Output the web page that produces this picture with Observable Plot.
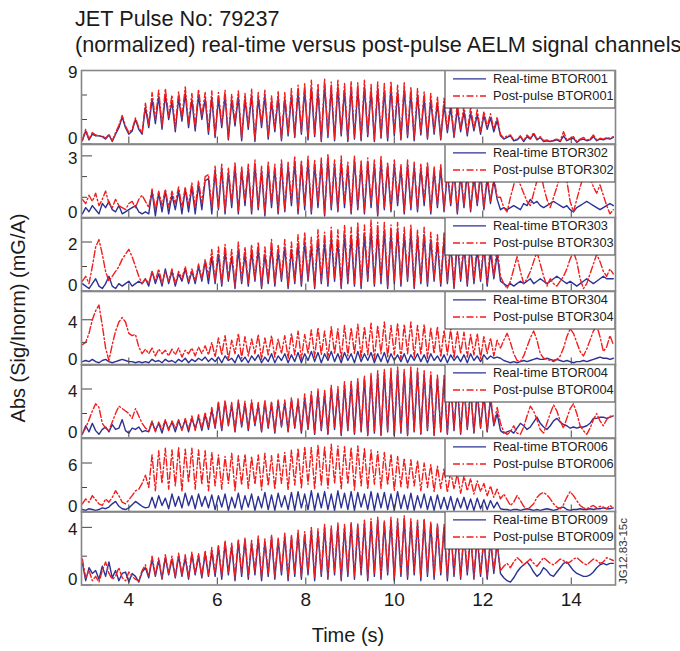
<!DOCTYPE html>
<html>
<head>
<meta charset="utf-8">
<script src="https://cdn.jsdelivr.net/npm/d3@7"></script>
<script src="https://cdn.jsdelivr.net/npm/@observablehq/plot@0.6"></script>
<style>
  html, body { margin: 0; padding: 0; background: #fff; }
  #chart { position: relative; width: 680px; height: 651px; overflow: hidden; background: #fff;
           font-family: "Liberation Sans", Arial, Helvetica, sans-serif; }
  #chart svg.panel { position: absolute; left: 0; }
</style>
</head>
<body>
<div id="chart"></div>
<script>
// ---------------- DATA ----------------
// sampling grid: 2.95 s .. 14.95 s, every 0.075 s (161 samples)
const tStart = 2.95, tStep = 0.075, nSamples = 161;

const channels = ["BTOR001", "BTOR302", "BTOR303", "BTOR304", "BTOR004", "BTOR006", "BTOR009"];

const rt_BTOR001 = [
  0.4,1.6,0.5,1.2,1.0,1.0,0.9,0.6,1.1,0.3,1.2,2.0,3.3,2.0,1.2,1.6,3.0,1.8,1.2,4.5,
  2.0,5.5,2.5,5.8,1.8,6.0,3.0,5.2,1.5,5.6,2.8,6.2,2.0,5.4,1.6,5.9,3.0,5.5,1.2,5.7,
  0.8,5.6,2.0,5.9,0.5,5.4,2.2,5.8,0.4,5.5,
  1.8,6.0,0.3,5.6,2.0,5.9,0.6,5.2,1.5,5.7,
  0.4,5.5,1.0,6.0,0.8,6.4,1.2,6.6,0.5,6.9,
  0.9,6.5,0.3,7.2,0.8,6.8,0.4,7.0,1.0,6.6,
  0.3,6.9,0.6,6.7,0.4,7.0,0.9,6.5,0.3,6.8,
  0.7,6.6,0.4,6.9,1.0,6.4,0.5,6.7,0.8,6.2,
  0.4,6.0,1.1,5.6,0.6,5.4,1.2,5.0,0.5,4.8,
  1.4,4.5,0.8,4.3,1.5,4.0,1.0,3.8,1.6,3.6,
  1.2,3.5,1.8,3.2,1.5,2.9,
  1.0,0.6,0.8,1.0,0.4,0.5,0.9,0.3,0.9,0.6,1.2,0.5,0.8,0.3,0.4,0.3,0.4,0.5,0.3,1.0,
  0.4,0.6,0.7,0.2,0.5,0.6,0.4,0.5,0.9,0.4,0.6,0.5,0.7,0.6,0.8
];
const pp_BTOR001 = [
  0.5,1.8,0.6,1.4,1.1,1.0,1.0,0.7,1.2,0.4,1.4,2.3,3.5,2.2,1.4,1.8,3.2,2.0,1.4,5.0,
  2.3,6.3,3.0,6.6,2.2,6.8,3.4,6.0,1.9,6.4,3.2,7.0,2.4,6.2,2.0,6.7,3.4,6.3,1.6,6.5,
  1.0,6.3,2.4,6.6,0.7,6.1,2.6,6.5,0.6,6.2,
  2.2,6.7,0.5,6.3,2.4,6.6,0.8,5.9,1.9,6.4,
  0.6,6.3,1.3,6.8,1.0,7.2,1.5,7.4,0.7,7.8,
  1.2,7.4,0.5,8.0,1.1,7.6,0.6,7.8,1.3,7.4,
  0.5,7.7,0.8,7.5,0.6,7.8,1.2,7.3,0.5,7.6,
  0.9,7.4,0.6,7.7,1.3,7.2,0.7,7.5,1.1,7.0,
  0.6,6.8,1.4,6.4,0.8,6.2,1.5,5.8,0.7,5.6,
  1.7,5.3,1.0,5.0,1.8,4.7,1.3,4.5,1.9,4.2,
  1.5,4.0,2.1,3.7,1.8,3.3,
  1.2,0.7,1.0,1.1,0.5,0.6,1.0,0.4,1.1,0.7,1.4,0.6,0.9,0.4,0.5,0.3,0.5,0.6,0.4,1.5,
  0.5,0.7,0.9,0.3,0.6,0.8,0.5,0.6,1.1,0.5,0.7,0.6,0.8,0.7,0.9
];
const rt_BTOR302 = [
  0.2,0.5,0.3,0.6,0.4,0.2,0.7,0.5,0.8,0.4,0.3,0.6,0.2,0.3,0.4,0.5,0.6,0.3,0.2,0.3,
  0.2,1.3,0.1,1.2,0.3,1.3,0.2,1.1,0.4,1.3,0.2,1.4,0.3,1.5,0.2,1.6,0.4,1.8,1.9,0.2,
  2.3,0.4,2.4,0.2,2.2,0.5,2.5,0.2,2.3,0.6,
  2.4,0.2,2.6,0.4,2.3,0.1,2.5,0.5,2.4,0.2,
  2.6,0.3,2.5,0.6,2.7,0.2,2.6,0.4,2.8,0.2,
  2.6,0.5,2.7,0.1,2.9,0.4,2.6,0.3,2.7,0.5,
  2.5,0.2,2.8,0.4,2.6,0.2,2.7,0.5,2.6,0.1,
  2.8,0.4,2.5,0.3,2.6,0.6,2.4,0.2,2.6,0.4,
  2.5,0.3,2.4,0.6,2.5,0.2,2.3,0.5,2.4,0.3,
  2.2,0.6,2.3,0.2,2.1,0.5,2.2,0.3,2.0,0.6,
  2.1,0.4,1.9,0.7,1.8,0.9,
  0.4,0.5,0.4,0.5,0.6,0.5,0.4,0.7,0.6,0.9,0.7,0.8,0.6,0.5,0.6,0.7,0.8,0.7,0.6,0.5,
  0.6,0.4,0.3,0.5,0.6,0.7,0.8,0.7,0.6,0.5,0.4,0.5,0.6,0.7,0.6
];
const pp_BTOR302 = [
  0.9,0.7,1.1,0.8,1.2,0.6,0.9,1.3,0.7,0.5,0.9,0.6,0.5,0.4,0.7,0.8,0.5,0.9,1.1,0.8,
  0.5,1.4,0.4,1.3,0.6,1.4,0.5,1.3,0.7,1.5,0.5,1.5,0.6,1.7,0.5,1.8,0.7,2.0,2.1,0.5,
  2.5,0.5,2.6,0.3,2.4,0.7,2.7,0.3,2.5,0.8,
  2.6,0.3,2.8,0.5,2.5,0.2,2.7,0.7,2.6,0.3,
  2.8,0.4,2.7,0.8,3.0,0.3,2.8,0.6,3.0,0.3,
  2.8,0.7,2.9,0.2,3.1,0.5,2.8,0.4,3.0,0.7,
  2.7,0.3,3.0,0.5,2.8,0.3,2.9,0.7,2.8,0.2,
  3.0,0.5,2.7,0.4,2.8,0.8,2.6,0.3,2.8,0.5,
  2.7,0.4,2.6,0.8,2.7,0.3,2.5,0.6,2.6,0.4,
  2.4,0.7,2.5,0.3,2.3,0.6,2.4,0.4,2.2,0.7,
  2.3,0.5,2.1,0.8,2.0,1.0,
  1.0,0.5,0.3,1.0,1.6,2.0,1.6,1.2,0.8,0.6,1.2,1.8,2.3,1.5,0.9,0.5,1.0,1.5,2.1,2.6,
  1.8,0.8,0.3,0.9,1.5,2.0,2.4,2.0,1.5,1.2,1.6,1.1,0.6,0.2,0.4
];
const rt_BTOR303 = [
  0.3,0.2,0.1,0.3,0.5,0.2,0.1,0.3,0.6,0.2,0.1,0.3,0.2,0.3,0.4,0.2,0.3,0.4,0.3,0.5,
  0.2,0.8,0.3,0.7,0.2,0.9,0.3,0.8,0.2,0.7,0.4,0.9,0.3,0.8,0.3,1.0,0.4,1.2,0.3,1.4,
  0.3,1.5,0.2,1.6,0.4,1.4,0.1,1.7,0.3,1.5,
  0.2,1.6,0.4,1.7,0.1,1.5,0.3,1.8,0.2,1.6,
  0.4,1.8,0.1,1.7,0.3,1.9,0.2,2.0,0.4,1.8,
  0.1,2.1,0.3,2.0,0.2,2.2,0.4,2.0,0.1,2.3,
  0.3,2.2,0.2,2.4,0.1,2.3,0.4,2.5,0.2,2.4,
  0.3,2.5,0.1,2.4,0.3,2.5,0.2,2.3,0.4,2.4,
  0.1,2.2,0.3,2.3,0.2,2.1,0.4,2.0,0.2,2.1,
  0.3,1.9,0.1,2.0,0.4,1.8,0.2,1.9,0.3,1.7,
  0.4,1.8,0.2,1.6,0.5,1.5,
  0.4,0.3,0.2,0.3,0.2,0.3,0.4,0.3,0.4,0.5,0.3,0.4,0.5,0.4,0.3,0.4,0.5,0.6,0.5,0.4,
  0.3,0.4,0.3,0.2,0.3,0.4,0.5,0.4,0.3,0.4,0.5,0.6,0.5,0.5,0.5
];
const pp_BTOR303 = [
  0.4,0.6,0.3,1.0,1.8,2.1,1.5,0.8,0.4,0.6,0.8,1.0,1.3,1.5,1.7,1.4,1.0,0.6,0.3,0.5,
  0.3,0.8,0.4,0.9,0.3,0.8,0.4,0.9,0.3,0.8,0.5,1.0,0.4,0.9,0.4,1.1,0.5,1.3,0.6,1.7,
  0.4,1.8,0.3,1.9,0.5,1.7,0.2,2.0,0.4,1.8,
  0.3,1.9,0.5,2.0,0.2,1.8,0.4,2.1,0.3,1.9,
  0.5,2.1,0.2,2.0,0.4,2.3,0.3,2.4,0.5,2.2,
  0.2,2.5,0.4,2.4,0.3,2.6,0.5,2.5,0.2,2.7,
  0.4,2.6,0.3,2.8,0.2,2.7,0.5,2.9,0.3,2.8,
  0.4,2.8,0.2,2.7,0.4,2.8,0.3,2.6,0.5,2.7,
  0.2,2.5,0.4,2.6,0.3,2.4,0.5,2.3,0.3,2.4,
  0.4,2.2,0.2,2.3,0.5,2.1,0.3,2.1,0.4,2.0,
  0.5,2.0,0.3,1.9,0.6,1.8,
  0.6,0.3,0.1,0.4,0.9,1.4,0.8,0.3,0.5,0.8,1.2,1.6,1.1,0.6,0.2,0.5,0.3,0.2,0.4,0.6,
  0.9,1.3,1.6,1.2,0.5,0.1,0.3,0.7,1.1,1.5,1.2,0.8,0.6,0.9,0.7
];
const rt_BTOR304 = [
  0.3,0.4,0.3,0.5,0.3,0.2,0.4,0.5,0.3,0.2,0.3,0.4,0.5,0.4,0.3,0.3,0.2,0.3,0.2,0.3,
  0.2,0.5,0.3,0.4,0.2,0.5,0.3,0.4,0.2,0.5,0.3,0.6,0.2,0.5,0.3,0.6,0.4,0.7,0.3,0.6,
  0.3,0.7,0.2,0.8,0.4,0.6,0.2,0.9,0.3,0.7,
  0.2,0.8,0.4,0.9,0.2,0.7,0.3,1.0,0.2,0.8,
  0.4,1.0,0.2,0.9,0.3,1.1,0.2,1.0,0.4,1.2,
  0.3,1.1,0.2,1.0,0.4,1.2,0.3,1.0,0.2,1.1,
  0.4,1.0,0.2,1.2,0.3,1.0,0.4,1.1,0.2,1.0,
  0.3,1.1,0.2,1.0,0.4,0.9,0.3,1.0,0.2,0.9,
  0.4,1.0,0.3,0.9,0.2,1.0,0.4,0.8,0.3,0.9,
  0.2,0.9,0.4,0.8,0.3,0.9,0.2,1.0,0.4,0.8,
  0.3,0.9,0.5,0.8,0.6,0.7,
  0.6,0.4,0.3,0.2,0.3,0.2,0.3,0.4,0.3,0.4,0.5,0.6,0.5,0.5,0.6,0.5,0.4,0.5,0.4,0.3,
  0.4,0.3,0.2,0.3,0.3,0.4,0.3,0.4,0.5,0.6,0.7,0.6,0.6,0.5,0.6
];
const pp_BTOR304 = [
  1.8,2.0,2.8,4.0,4.8,5.3,3.5,1.5,0.4,1.8,3.0,3.8,4.2,3.8,2.8,2.6,2.7,1.6,1.0,1.4,
  1.0,1.5,0.8,1.4,1.0,1.3,0.8,1.4,0.9,1.5,0.7,1.3,1.0,1.5,0.8,1.6,1.0,1.7,0.9,2.0,
  0.7,2.4,0.9,2.6,0.5,2.2,1.0,2.8,0.6,2.5,
  0.8,2.3,1.0,2.7,0.5,2.4,0.9,2.6,0.7,2.3,
  1.0,2.6,0.6,2.8,0.9,3.0,0.5,2.7,1.0,3.1,
  0.7,3.3,0.9,3.0,0.6,3.4,1.0,3.2,0.5,3.5,
  0.8,3.3,1.0,3.6,0.6,3.4,0.9,3.7,0.5,3.5,
  1.0,3.8,0.7,3.5,0.9,3.7,0.5,3.6,1.0,3.8,
  0.7,3.5,0.9,3.6,0.6,3.3,1.0,3.4,0.7,3.1,
  0.9,3.2,0.6,3.0,1.0,2.9,0.7,2.7,0.9,2.8,
  0.6,2.5,1.0,2.4,0.8,2.2,
  1.5,2.2,2.8,2.0,1.0,0.4,0.3,0.8,1.6,2.4,3.0,2.2,1.0,0.6,0.5,0.4,0.3,0.5,0.8,1.5,
  2.5,3.2,2.8,2.0,1.2,0.8,1.4,2.2,3.0,3.5,2.5,1.2,1.6,2.6,1.8
];
const rt_BTOR004 = [
  0.3,1.0,0.5,1.2,0.6,0.3,0.7,0.9,0.5,1.1,0.7,0.8,1.5,0.6,0.4,0.8,0.7,0.9,0.5,0.6,
  0.5,1.3,0.6,1.2,0.4,1.4,0.7,1.3,0.5,1.4,0.7,1.5,0.5,1.6,0.8,1.7,0.6,1.9,0.7,2.3,
  0.8,2.8,0.6,2.9,1.0,2.7,0.5,3.0,0.9,2.8,
  0.6,2.9,1.0,2.7,0.5,2.9,0.8,2.8,0.4,3.0,
  0.9,2.9,0.5,3.1,0.8,3.0,0.4,3.3,0.7,3.5,
  0.3,3.8,0.6,3.6,0.3,4.1,0.7,3.9,0.2,4.3,
  0.6,4.4,0.3,4.6,0.5,4.8,0.2,5.0,0.4,5.2,
  0.2,5.3,0.5,5.4,0.2,5.5,0.4,5.3,0.2,5.5,
  0.5,5.4,0.3,5.2,0.6,5.1,0.2,4.9,0.5,4.8,
  0.3,4.6,0.6,4.4,0.3,4.2,0.7,3.9,0.4,3.7,
  0.8,3.5,0.5,3.2,1.0,2.0,
  0.6,0.4,0.5,0.6,0.4,0.8,1.2,1.0,0.7,0.9,1.3,1.7,1.2,0.9,0.7,1.0,1.4,1.6,1.3,1.1,
  1.0,0.8,0.9,0.8,0.9,0.9,1.0,1.2,1.6,1.6,1.7,1.7,1.6,1.7,1.8
];
const pp_BTOR004 = [
  0.4,0.8,1.5,2.2,2.8,2.5,1.2,0.8,0.6,1.3,2.0,2.6,2.4,2.2,2.0,1.6,2.4,1.8,1.2,0.8,
  0.6,1.4,0.5,1.3,0.7,1.5,0.6,1.4,0.8,1.5,0.6,1.6,0.7,1.8,0.6,1.9,0.8,2.1,0.9,2.5,
  0.9,3.0,0.7,3.1,1.1,2.9,0.6,3.1,1.0,3.0,
  0.7,3.1,1.1,2.9,0.6,3.1,0.9,3.0,0.5,3.1,
  1.0,3.1,0.6,3.3,0.9,3.2,0.5,3.6,0.8,3.8,
  0.4,4.0,0.7,3.9,0.4,4.3,0.8,4.2,0.3,4.6,
  0.7,4.7,0.4,4.9,0.6,5.1,0.3,5.3,0.5,5.5,
  0.3,5.6,0.6,5.7,0.3,5.8,0.5,5.6,0.3,5.8,
  0.6,5.7,0.4,5.5,0.7,5.4,0.3,5.2,0.6,5.1,
  0.4,4.9,0.7,4.7,0.4,4.5,0.8,4.2,0.5,4.0,
  0.9,3.8,0.6,3.5,1.1,2.5,
  1.2,0.5,0.3,0.5,1.0,0.4,0.3,0.9,1.8,2.6,2.2,1.5,0.7,0.4,1.2,2.0,2.7,2.2,1.4,0.8,
  1.6,2.4,2.8,2.0,1.0,0.6,0.3,0.8,1.5,2.0,1.4,1.0,1.5,1.8,1.7
];
const rt_BTOR006 = [
  0.3,0.2,0.4,0.3,0.2,0.3,0.5,0.4,0.6,1.0,1.3,0.7,0.4,0.3,0.5,0.9,1.3,1.0,0.7,0.5,
  0.6,1.8,0.5,2.0,0.8,1.7,0.4,2.2,0.7,1.9,0.5,2.3,0.8,2.0,0.4,2.2,0.7,1.9,0.5,2.1,
  0.3,2.0,0.6,2.2,0.2,1.8,0.5,2.3,0.3,2.0,
  0.6,2.2,0.2,1.9,0.5,2.4,0.3,2.1,0.2,2.3,
  0.6,2.0,0.3,2.4,0.2,2.5,0.5,2.2,0.3,2.6,
  0.2,2.3,0.5,2.5,0.3,2.2,0.2,2.6,0.5,2.3,
  0.3,2.5,0.2,2.4,0.6,2.2,0.3,2.5,0.2,2.3,
  0.5,2.4,0.3,2.2,0.2,2.5,0.4,2.1,0.3,2.3,
  0.2,2.0,0.5,2.2,0.3,1.9,0.2,2.1,0.4,1.8,
  0.3,1.9,0.2,1.7,0.5,1.8,0.3,1.6,0.2,1.7,
  0.4,1.5,0.3,1.4,0.5,1.2,
  0.4,0.3,0.3,0.2,0.3,0.3,0.2,0.3,0.4,0.3,0.2,0.3,0.2,0.3,0.4,0.3,0.2,0.3,0.5,0.6,
  0.3,0.2,0.3,0.3,0.4,0.3,0.3,0.4,0.3,0.4,0.4,0.5,0.4,0.4,0.5
];
const pp_BTOR006 = [
  1.0,1.6,1.2,2.0,1.5,1.0,0.8,1.6,1.2,1.8,2.6,2.0,1.2,1.0,1.5,2.0,2.6,2.8,3.5,4.5,
  3.0,7.0,2.6,7.5,3.5,7.8,2.8,7.6,3.2,7.9,2.5,7.7,3.6,7.8,2.8,7.6,3.4,7.5,2.6,7.3,
  3.2,7.0,2.8,6.8,3.5,7.2,2.6,6.9,3.3,7.1,
  2.9,6.8,3.4,7.0,2.7,7.2,3.2,6.9,2.8,7.1,
  3.5,7.3,2.7,7.6,3.3,7.8,2.9,8.0,3.4,7.9,
  2.8,8.2,3.3,8.0,2.9,8.3,3.5,8.1,2.8,8.0,
  3.4,7.9,2.7,8.1,3.2,7.8,2.8,7.6,3.4,7.4,
  2.9,7.3,3.3,7.1,2.6,6.8,3.1,6.6,2.8,6.4,
  3.2,6.3,2.6,6.0,3.0,5.8,2.5,5.6,2.9,5.3,
  2.4,5.0,2.8,4.7,2.3,4.4,2.6,4.1,2.2,3.8,
  2.5,3.5,2.0,3.2,1.8,2.8,
  1.6,2.2,1.5,0.8,1.2,2.0,1.4,0.7,0.3,0.6,1.0,1.8,2.2,2.4,2.1,1.6,1.0,0.6,0.4,0.9,
  1.8,2.5,2.0,1.4,0.8,0.5,0.4,0.6,0.8,0.5,0.7,0.6,0.4,0.8,0.5
];
const rt_BTOR009 = [
  1.5,0.3,1.2,0.8,1.0,0.4,1.3,0.6,1.6,0.5,1.0,0.3,0.8,0.9,0.2,0.8,0.6,0.2,0.9,1.2,
  0.5,1.8,0.6,1.7,0.4,1.9,0.7,1.8,0.5,2.0,0.6,1.9,0.4,2.1,0.7,2.0,0.5,2.2,0.6,2.3,
  0.6,2.6,0.4,2.9,0.7,2.7,0.3,3.0,0.6,3.1,
  0.4,2.9,0.7,3.2,0.3,3.0,0.6,3.3,0.4,3.1,
  0.7,3.4,0.3,3.3,0.6,3.6,0.4,3.5,0.7,3.8,
  0.3,3.7,0.6,4.0,0.4,3.9,0.7,4.1,0.3,4.0,
  0.6,4.2,0.4,4.1,0.7,4.3,0.3,4.4,0.6,4.5,
  0.4,4.3,0.7,4.5,0.3,4.4,0.6,4.6,0.4,4.4,
  0.7,4.3,0.3,4.5,0.6,4.2,0.4,4.1,0.7,4.0,
  0.3,3.9,0.6,3.8,0.4,3.6,0.7,3.5,0.4,3.4,
  0.6,3.2,0.4,3.1,0.8,2.9,
  0.8,0.5,0.3,0.2,0.5,0.9,1.2,1.4,1.6,1.3,0.9,0.6,0.8,1.2,1.0,0.7,0.6,0.9,1.2,1.5,
  1.6,1.3,1.0,0.8,0.7,0.6,0.6,0.7,0.9,1.2,1.4,1.5,1.4,1.5,1.5
];
const pp_BTOR009 = [
  1.8,0.5,1.0,0.3,0.6,0.2,1.0,1.6,0.8,0.4,0.6,1.2,0.5,0.3,0.9,0.6,0.4,0.3,1.0,1.4,
  0.6,2.0,0.7,1.9,0.5,2.1,0.8,2.0,0.6,2.2,0.7,2.1,0.5,2.3,0.8,2.2,0.6,2.4,0.7,2.6,
  0.8,2.8,0.6,3.1,0.9,2.9,0.5,3.2,0.8,3.3,
  0.6,3.1,0.9,3.4,0.5,3.2,0.8,3.5,0.6,3.3,
  0.9,3.6,0.5,3.5,0.8,3.8,0.6,3.7,0.9,4.0,
  0.5,3.9,0.8,4.2,0.6,4.1,0.9,4.3,0.5,4.2,
  0.8,4.4,0.6,4.3,0.9,4.5,0.5,4.6,0.8,4.7,
  0.6,4.5,0.9,4.7,0.5,4.6,0.8,4.8,0.6,4.6,
  0.9,4.5,0.5,4.6,0.8,4.4,0.6,4.3,0.9,4.2,
  0.5,4.1,0.8,4.0,0.6,3.8,0.9,3.7,0.6,3.6,
  0.8,3.4,0.6,3.3,1.0,3.0,
  1.0,1.3,1.5,1.2,1.6,1.9,1.7,1.4,1.6,1.8,1.5,1.3,1.6,1.9,1.7,1.5,1.4,1.6,1.8,1.7,
  1.5,1.6,1.8,1.9,1.7,1.5,1.4,1.6,1.8,1.7,1.5,1.6,1.9,1.8,1.7
];

const realTime  = [rt_BTOR001, rt_BTOR302, rt_BTOR303, rt_BTOR304, rt_BTOR004, rt_BTOR006, rt_BTOR009];
const postPulse = [pp_BTOR001, pp_BTOR302, pp_BTOR303, pp_BTOR304, pp_BTOR004, pp_BTOR006, pp_BTOR009];

const yMax        = [9, 3.55, 3, 6.5, 6.0, 9, 5.1];
const yTopLabel   = [9, 3, 2, 4, 4, 6, 4];
const yMinorTicks = [[3, 6], [1, 2], [1], [2], [2], [3], [2]];
const xTicks      = [4, 6, 8, 10, 12, 14];
const xDomain     = [2.93, 15.0];

// ---------------- LAYOUT / STYLE ----------------
const W = 680, H = 651;
const PANEL_TOP = 70, PANEL_H = 73.5;
const ML = 81, MR = 65;
const LAST_MB = 60;
const FONT = '"Liberation Sans", Arial, Helvetica, sans-serif';
const BLUE = "#2c3194", RED = "#f21d1d";
const FRAME = "#868686", TICK = "#444444", INK = "#1a1a1a";

[...realTime, ...postPulse].forEach((a, i) => {
  if (a.length !== nSamples) throw new Error("series " + i + " has " + a.length + " samples");
});
const time = d3.range(nSamples).map(i => +(tStart + i * tStep).toFixed(3));

const chart = document.getElementById("chart");

// overlay for titles and shared axis labels
const over = d3.select(chart).append("svg")
  .attr("width", W).attr("height", H)
  .style("position", "absolute").style("left", 0).style("top", 0)
  .attr("font-family", FONT).attr("fill", INK);
over.append("text").attr("x", 75).attr("y", 26).attr("font-size", 21.7).text("JET Pulse No: 79237");
over.append("text").attr("x", 75).attr("y", 52).attr("font-size", 21.7)
  .text("(normalized) real-time versus post-pulse AELM signal channels");
over.append("text").attr("transform", "translate(25,318) rotate(-90)")
  .attr("text-anchor", "middle").attr("font-size", 20).text("Abs (Sig/Inorm) (mG/A)");
over.append("text").attr("x", 348).attr("y", 642).attr("text-anchor", "middle")
  .attr("font-size", 20).text("Time (s)");
over.append("text").attr("transform", "translate(627,551) rotate(-90)")
  .attr("text-anchor", "middle").attr("font-size", 11.5).attr("fill", "#333").text("JG12.83-15c");

channels.forEach((ch, k) => {
  const last = k === channels.length - 1;
  const mb = last ? LAST_MB : 0;
  const rows = arr => time.map((t, i) => ({t, v: arr[i]}));

  const marks = [
    Plot.line(rows(realTime[k]), {x: "t", y: "v", stroke: BLUE, strokeWidth: 1.4, clip: true}),
    Plot.line(rows(postPulse[k]), {x: "t", y: "v", stroke: RED, strokeWidth: 1.4,
      strokeDasharray: "7,2.5,1.5,2.5", clip: true}),
    Plot.axisY({ticks: yMinorTicks[k], tickSize: -6, fill: "none", stroke: TICK, label: null}),
    Plot.axisY({ticks: [0, yTopLabel[k]], tickSize: -11, fill: "none", stroke: TICK, label: null}),
    Plot.axisY({ticks: [0], tickSize: 0, tickPadding: 4, fontSize: 17, dy: -5.5,
      fill: INK, tickFormat: d => String(d), label: null}),
    Plot.axisY({ticks: [yTopLabel[k]], tickSize: 0, tickPadding: 4, fontSize: 17, dy: 2.5,
      fill: INK, tickFormat: d => String(d), label: null}),
    Plot.axisX({ticks: xTicks, tickSize: -7, fill: "none", stroke: TICK, label: null})
  ];
  if (last) {
    marks.push(Plot.axisX({ticks: xTicks, tickSize: 0, tickPadding: 7, fontSize: 19,
      fill: INK, tickFormat: d => String(d), label: null}));
  }
  marks.push(Plot.frame({stroke: FRAME, strokeWidth: 1.6}));

  const plot = Plot.plot({
    width: W,
    height: PANEL_H + mb,
    marginLeft: ML, marginRight: MR, marginTop: 0, marginBottom: mb,
    style: {background: "transparent", overflow: "visible", fontFamily: FONT, color: INK},
    x: {domain: xDomain},
    y: {domain: [0, yMax[k]]},
    marks
  });
  plot.classList.add("panel");
  plot.style.top = (PANEL_TOP + k * PANEL_H) + "px";

  // legend box (top-right of each panel)
  const svg = d3.select(plot);
  const right = W - MR;
  const lg = svg.append("g").attr("font-family", FONT).attr("font-size", 12.8);
  lg.append("rect").attr("x", right - 170).attr("y", 0.5).attr("width", 170).attr("height", 37.5)
    .attr("fill", "white").attr("stroke", "#3a3a3a").attr("stroke-width", 1);
  const rowsY = [8.8, 26];
  lg.append("line").attr("x1", right - 162).attr("x2", right - 129).attr("y1", rowsY[0]).attr("y2", rowsY[0])
    .attr("stroke", BLUE).attr("stroke-width", 1.3);
  lg.append("line").attr("x1", right - 162).attr("x2", right - 129).attr("y1", rowsY[1]).attr("y2", rowsY[1])
    .attr("stroke", RED).attr("stroke-width", 1.3).attr("stroke-dasharray", "7,2.5,1.5,2.5");
  lg.append("text").attr("x", right - 122).attr("y", rowsY[0]).attr("dy", "0.35em")
    .attr("fill", "#222").attr("text-anchor", "start").text("Real-time " + ch);
  lg.append("text").attr("x", right - 122).attr("y", rowsY[1]).attr("dy", "0.35em")
    .attr("fill", "#222").attr("text-anchor", "start").text("Post-pulse " + ch);
  svg.selectAll('[aria-label="frame"]').raise();

  chart.appendChild(plot);
});
</script>
</body>
</html>
